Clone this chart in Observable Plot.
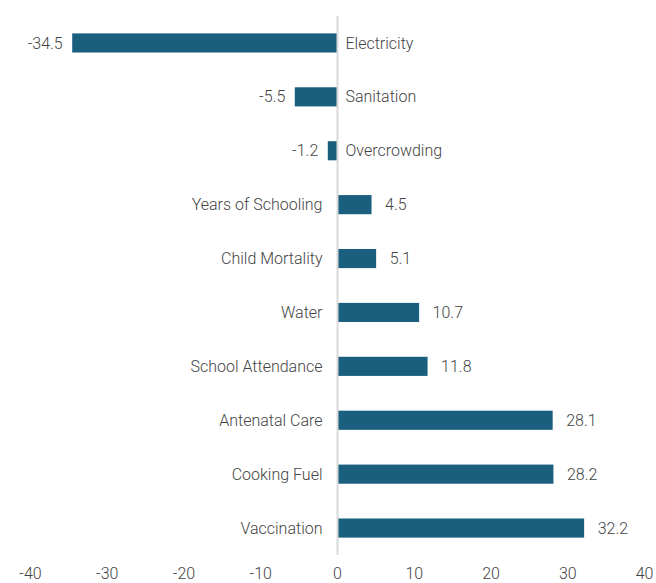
<!DOCTYPE html>
<html>
<head>
<meta charset="utf-8">
<script src="https://cdn.jsdelivr.net/npm/d3@7"></script>
<script src="https://cdn.jsdelivr.net/npm/@observablehq/plot@0.6"></script>
<style>
  html, body { margin: 0; padding: 0; background: #fff; }
  svg { font-family: Roboto, "Open Sans", sans-serif; font-weight: 300; }
</style>
</head>
<body>
<div id="chart"></div>
<script>
const categories = ["Electricity", "Sanitation", "Overcrowding", "Years of Schooling", "Child Mortality", "Water", "School Attendance", "Antenatal Care", "Cooking Fuel", "Vaccination"];
const values = [-34.5, -5.5, -1.2, 4.5, 5.1, 10.7, 11.8, 28.1, 28.2, 32.2];
const xTicks = [-40, -30, -20, -10, 0, 10, 20, 30, 40];

const data = categories.map((c, i) => ({category: c, value: values[i]}));
const neg = data.filter(d => d.value < 0);
const pos = data.filter(d => d.value >= 0);

const chart = Plot.plot({
  width: 656,
  height: 583,
  marginLeft: 30,
  marginRight: 12,
  marginTop: 16,
  marginBottom: 28,
  style: {fontSize: "16px", color: "#444", fontFamily: "Roboto, sans-serif"},
  x: {domain: [-40, 40], ticks: xTicks, label: null},
  y: {domain: categories, axis: null, paddingInner: 0.645, paddingOuter: 0.3225, round: false},
  marks: [
    Plot.barX(data, {x: "value", y: "category", fill: "#1b5f7f"}),
    Plot.ruleX([0], {stroke: "#d9d9d9", strokeWidth: 2}),
    Plot.axisX({ticks: xTicks, tickSize: 0, tickPadding: 12, fontSize: 16, fill: "#444", label: null, tickFormat: d => String(d)}),
    // value labels
    Plot.text(pos, {x: "value", y: "category", text: d => d.value.toFixed(1), dx: 13, textAnchor: "start", fontSize: 16, fill: "#444"}),
    Plot.text(neg, {x: "value", y: "category", text: d => d.value.toFixed(1), dx: -10, textAnchor: "end", fontSize: 16, fill: "#444"}),
    // category labels
    Plot.text(pos, {x: 0, y: "category", text: "category", dx: -15, textAnchor: "end", fontSize: 16, fill: "#444"}),
    Plot.text(neg, {x: 0, y: "category", text: "category", dx: 8, textAnchor: "start", fontSize: 16, fill: "#444"})
  ]
});
document.getElementById("chart").appendChild(chart);
</script>
</body>
</html>
